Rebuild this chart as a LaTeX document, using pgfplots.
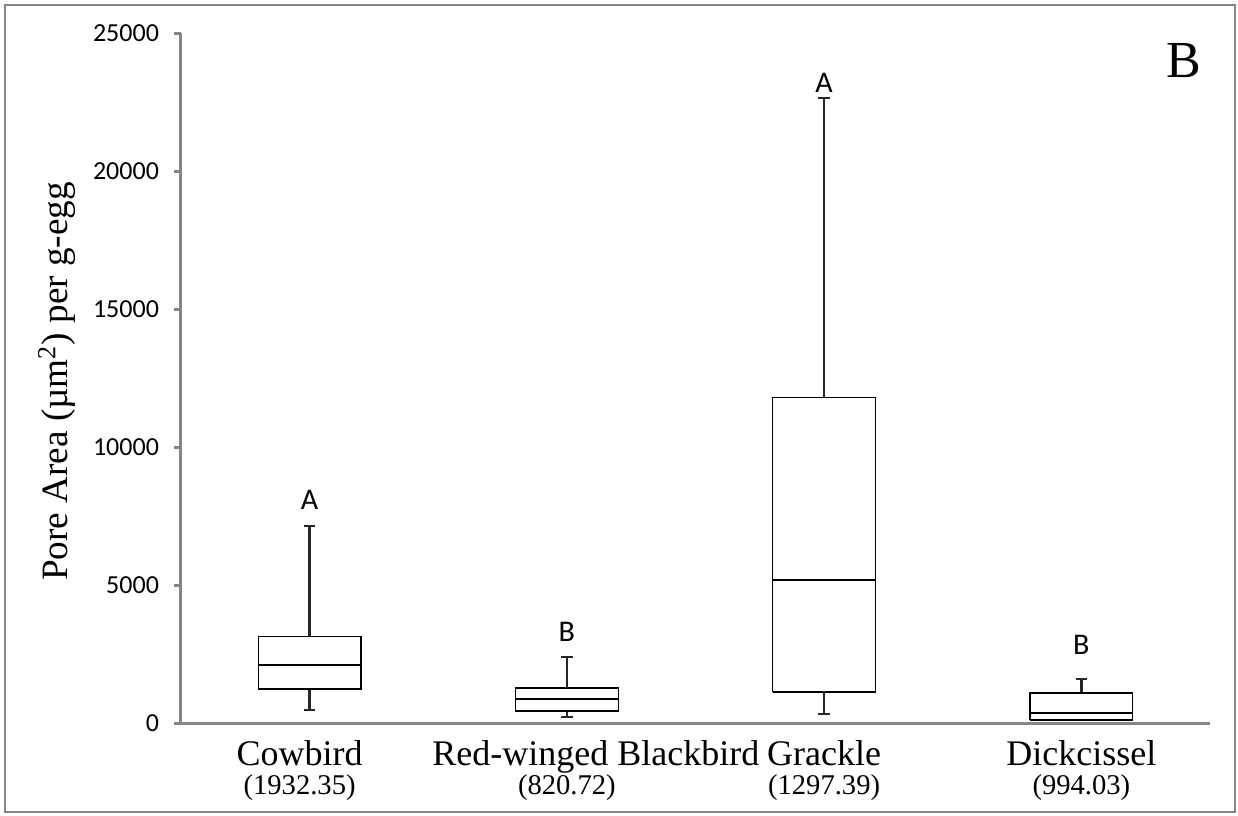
\documentclass[border=0pt]{standalone}
\usepackage{fontspec}
\setmainfont{Liberation Serif}
\newfontfamily\calib{Carlito}
\usepackage{pgfplots}
\pgfplotsset{compat=1.18}

\definecolor{axgray}{HTML}{868686}
\definecolor{whisk}{HTML}{262626}

\newcommand{\sub}[1]{\\[-5.5pt]{\fontsize{14.3}{16}\selectfont #1}}

\begin{document}
\begin{tikzpicture}
\begin{axis}[
  scale only axis,
  width=514.5pt, height=345pt,
  xmin=0, xmax=4,
  ymin=0, ymax=25000,
  axis x line*=bottom,
  axis y line*=left,
  axis line style={axgray, line width=1.5pt},
  xtick={0.5,1.5,2.5,3.5},
  xticklabels={
    {Cowbird\hspace*{10pt}\sub{(1932.35)\hspace*{10pt}}},
    {\hspace*{29pt}Red-winged Blackbird\sub{(820.72)}},
    {Grackle\sub{(1297.39)}},
    {Dickcissel\sub{(994.03)}}},
  xticklabel style={align=center, font=\fontsize{18}{20}\selectfont, yshift=-1.5pt},
  x tick style={draw=none},
  ytick={0,5000,...,25000},
  tick align=outside,
  major tick length=3.5pt,
  y tick style={axgray, line width=1.5pt},
  /pgf/number format/assume math mode=true,
  scaled y ticks=false,
  yticklabel={\pgfmathprintnumber[fixed,1000 sep={}]{\tick}},
  yticklabel style={font=\calib\fontsize{13}{14}\selectfont, xshift=-4pt},
  ylabel={Pore Area (µm\textsuperscript{2}) per g-egg},
  ylabel style={at={(axis description cs:-0.1205,0.495)}, anchor=center, font=\fontsize{18.6}{20}\selectfont},
  clip=false,
  whisker/.style={whisk, line width=1.3pt, mark=none, forget plot},
  box/.style={black, line width=0.6pt, fill=white, mark=none, forget plot},
  median/.style={black, line width=0.6pt, mark=none, forget plot},
]
% Cowbird
\addplot[whisker] coordinates {(0.5,470) (0.5,7140)};
\addplot[whisker] coordinates {(0.4775,470) (0.5225,470)};
\addplot[whisker] coordinates {(0.4775,7140) (0.5225,7140)};
\addplot[box] coordinates {(0.3,1230) (0.7,1230) (0.7,3120) (0.3,3120) (0.3,1230)};
\addplot[median] coordinates {(0.3,2100) (0.7,2100)};
% Red-winged Blackbird
\addplot[whisker] coordinates {(1.5,220) (1.5,2390)};
\addplot[whisker] coordinates {(1.4775,220) (1.5225,220)};
\addplot[whisker] coordinates {(1.4775,2390) (1.5225,2390)};
\addplot[box] coordinates {(1.3,435) (1.7,435) (1.7,1270) (1.3,1270) (1.3,435)};
\addplot[median] coordinates {(1.3,870) (1.7,870)};
% Grackle
\addplot[whisker] coordinates {(2.5,330) (2.5,22650)};
\addplot[whisker] coordinates {(2.4775,330) (2.5225,330)};
\addplot[whisker] coordinates {(2.4775,22650) (2.5225,22650)};
\addplot[box] coordinates {(2.3,1120) (2.7,1120) (2.7,11780) (2.3,11780) (2.3,1120)};
\addplot[median] coordinates {(2.3,5180) (2.7,5180)};
% Dickcissel
\addplot[whisker] coordinates {(3.5,60) (3.5,1590)};
\addplot[whisker] coordinates {(3.4775,1590) (3.5225,1590)};
\addplot[box] coordinates {(3.3,110) (3.7,110) (3.7,1090) (3.3,1090) (3.3,110)};
\addplot[median] coordinates {(3.3,360) (3.7,360)};

\node[font=\calib\fontsize{15}{15}\selectfont] at (axis cs:0.5,8080) {A};
\node[font=\calib\fontsize{15}{15}\selectfont] at (axis cs:1.5,3300) {B};
\node[font=\calib\fontsize{15}{15}\selectfont] at (axis cs:2.5,23190) {A};
\node[font=\calib\fontsize{15}{15}\selectfont] at (axis cs:3.5,2830) {B};
\node[font=\fontsize{26}{26}\selectfont] at (axis cs:3.9,23985) {B};

\coordinate (O) at (rel axis cs:0,0);
\end{axis}
\pgfresetboundingbox
\draw[axgray, line width=1.2pt] ([shift={(-88pt,-44.5pt)}]O) rectangle ([shift={(527pt,359pt)}]O);
\useasboundingbox ([shift={(-90.5pt,-46pt)}]O) rectangle ([shift={(528.5pt,361.5pt)}]O);
\end{tikzpicture}
\end{document}
